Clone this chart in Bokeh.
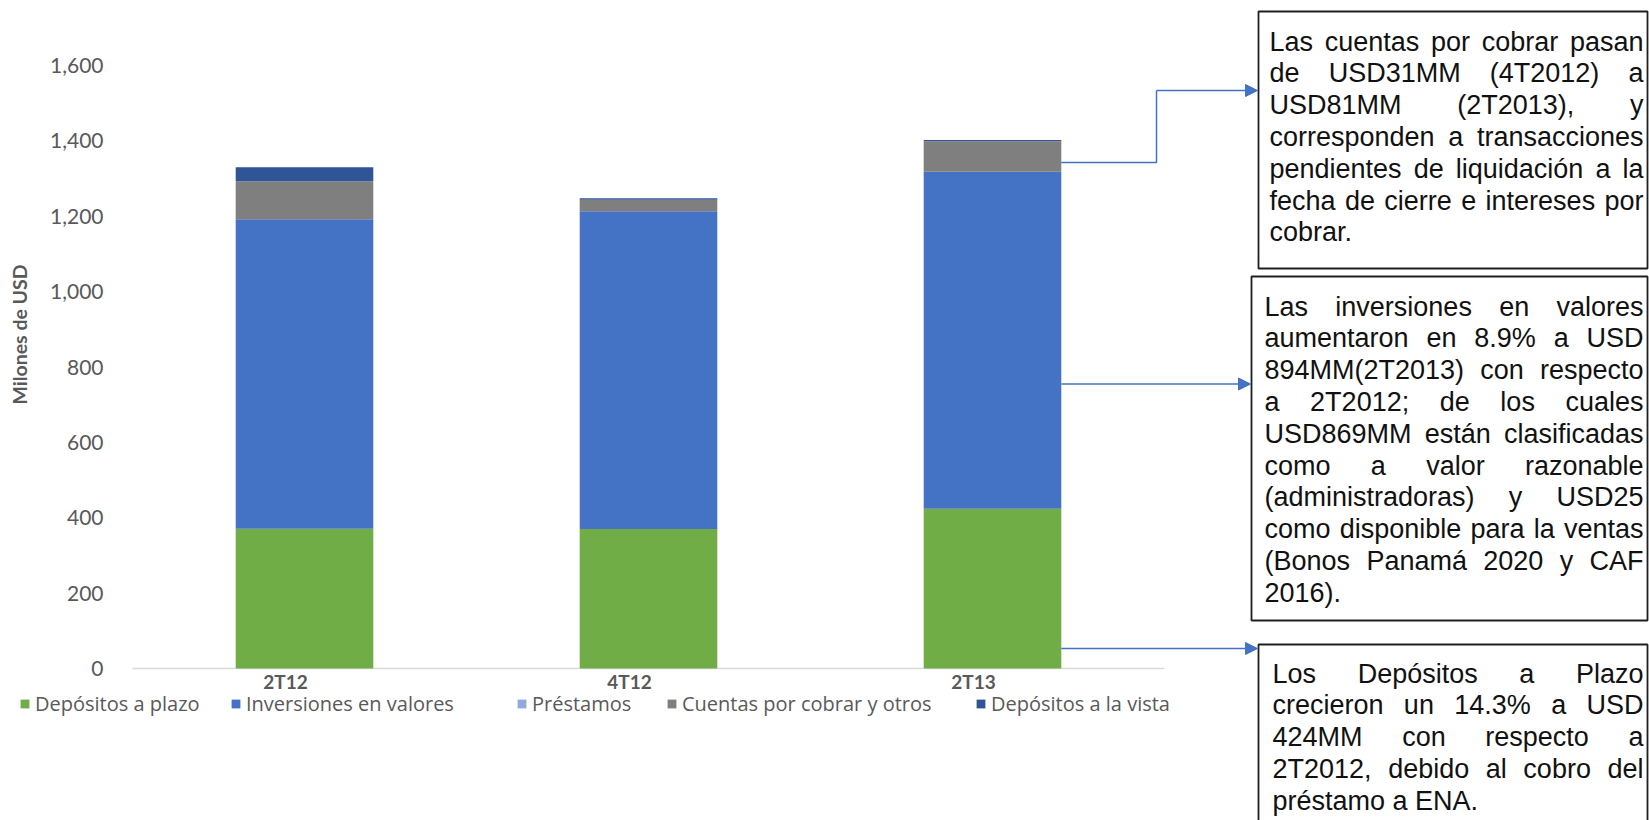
import math
from bokeh.plotting import figure
from bokeh.models import (ColumnDataSource, Range1d, FixedTicker, LinearAxis,
                          NumeralTickFormatter, Legend, LegendItem, Arrow, NormalHead)
from bokeh.core.properties import value
from bokeh.embed import file_html
from bokeh.resources import INLINE

# ---- data (millones de USD) ----
categories = ["2T12", "4T12", "2T13"]
depositos_plazo = [371, 370, 424]
inversiones_valores = [821, 843, 894]
prestamos = [0, 0, 0]
cuentas_por_cobrar = [101, 31, 81]
depositos_vista = [37, 4, 3]

series_keys = ["dep_plazo", "inversiones", "prestamos", "cuentas", "dep_vista"]
series_names = ["Depósitos a plazo", "Inversiones en valores", "Préstamos",
                "Cuentas por cobrar y otros", "Depósitos a la vista"]
series_colors = ["#70AD47", "#4472C4", "#8FAADC", "#7F7F7F", "#2F5597"]
y_ticks = [0, 200, 400, 600, 800, 1000, 1200, 1400, 1600]

notes = [
    ["Las cuentas por cobrar pasan",
     "de USD31MM (4T2012) a",
     "USD81MM (2T2013), y",
     "corresponden a transacciones",
     "pendientes de liquidación a la",
     "fecha de cierre e intereses por",
     "cobrar."],
    ["Las inversiones en valores",
     "aumentaron en 8.9% a USD",
     "894MM(2T2013) con respecto",
     "a 2T2012; de los cuales",
     "USD869MM están clasificadas",
     "como a valor razonable",
     "(administradoras) y USD25",
     "como disponible para la ventas",
     "(Bonos Panamá 2020 y CAF",
     "2016)."],
    ["Los Depósitos a Plazo",
     "crecieron un 14.3% a USD",
     "424MM con respecto a",
     "2T2012, debido al cobro del",
     "préstamo a ENA."],
]

# ---- page geometry (pixels) ----
W, H = 1649, 820
X0_PX = 304          # centre of the first category
CAT_PX = 344         # width of one category slot
BASE_PX = 668        # pixel row of the value 0
PPU = 603 / 1600.0   # pixels per million USD
BAR_W = 0.4
LABEL_SHIFT = 19     # category labels sit slightly left of the bar centres
TXT = "#595959"
ARROW_C = "#4472C4"


def xd(px):
    return (px - X0_PX) / CAT_PX


def yd(py):
    return (BASE_PX - py) / PPU


cat_x = list(range(len(categories)))

p = figure(width=W, height=H,
           x_range=Range1d(xd(0), xd(W)), y_range=Range1d(yd(H), yd(0)),
           x_axis_type=None,
           min_border_left=0, min_border_right=0, min_border_top=0, min_border_bottom=0,
           toolbar_location=None, output_backend="svg")
p.outline_line_color = None
p.ygrid.visible = False
p.extra_x_ranges = {"labels": Range1d(xd(0) + LABEL_SHIFT / CAT_PX, xd(W) + LABEL_SHIFT / CAT_PX),
                    "px": Range1d(0, W)}
p.extra_y_ranges = {"px": Range1d(H, 0)}

# ---- baseline and stacked bars ----
p.segment(x0=[cat_x[0] - 0.5], y0=[0], x1=[cat_x[-1] + 0.5], y1=[0],
          line_color="#D9D9D9", line_width=1.5)

source = ColumnDataSource(dict(x=cat_x, dep_plazo=depositos_plazo,
                               inversiones=inversiones_valores, prestamos=prestamos,
                               cuentas=cuentas_por_cobrar, dep_vista=depositos_vista))
bars = p.vbar_stack(series_keys, x="x", width=BAR_W, source=source,
                    fill_color=series_colors, line_color=None)

# ---- value axis, drawn at the left edge of the plotting area ----
yax = p.yaxis[0]
yax.fixed_location = cat_x[0] - 0.5
yax.ticker = FixedTicker(ticks=y_ticks)
yax.formatter = NumeralTickFormatter(format="0,0")
yax.axis_line_color = None
yax.major_tick_line_color = None
yax.minor_tick_line_color = None
yax.major_tick_out = 0
yax.major_label_standoff = 29
yax.major_label_text_font = "Lato"
yax.major_label_text_font_size = "21px"
yax.major_label_text_color = TXT

p.text(x=[xd(19)], y=[yd(334)], text=["Milones de USD"], angle=math.pi / 2,
       text_font=value("Lato"), text_font_style="bold", text_font_size="19.5px",
       text_color=TXT, text_align="center", text_baseline="middle")

# ---- category axis along the zero line ----
xax = LinearAxis(x_range_name="labels", fixed_location=0,
                 ticker=FixedTicker(ticks=cat_x),
                 major_label_overrides={i: c for i, c in zip(cat_x, categories)})
xax.axis_line_color = None
xax.major_tick_line_color = None
xax.minor_tick_line_color = None
xax.major_tick_out = 0
xax.major_label_standoff = 1
xax.major_label_text_font = "Lato"
xax.major_label_text_font_style = "bold"
xax.major_label_text_font_size = "19px"
xax.major_label_text_color = TXT
p.add_layout(xax, "below")

# ---- legend: one entry per series along the bottom ----
legend_x = [19, 230, 516, 666, 975]
legend_y = 706
for name, r, lx in zip(series_names, bars, legend_x):
    leg = Legend(items=[LegendItem(label=name, renderers=[r])],
                 location=(lx, H - legend_y - 11), orientation="horizontal",
                 padding=0, margin=0, border_line_color=None,
                 background_fill_alpha=0, glyph_width=11, glyph_height=11,
                 label_standoff=5, label_height=22, label_text_font="Open Sans",
                 label_text_font_size="20px", label_text_color=TXT,
                 label_text_baseline="middle")
    p.add_layout(leg)

# ---- commentary boxes ----
box_left = [1258, 1251, 1258]
box_top = [11, 276, 644]
box_bottom = [268, 620, 830]
box_right = 1647
p.quad(left=box_left, right=[box_right] * 3, top=box_top, bottom=box_bottom,
       x_range_name="px", y_range_name="px",
       fill_color=None, line_color="#1F1F1F", line_width=1.8)

# ---- connectors from the 2T13 bar to the boxes ----
i_last = categories.index("2T13")
bar_right = cat_x[i_last] + BAR_W / 2
base_cuentas = depositos_plazo[i_last] + inversiones_valores[i_last] + prestamos[i_last]
a1 = base_cuentas + 0.3 * cuentas_por_cobrar[i_last]
a2 = depositos_plazo[i_last] + 0.37 * inversiones_valores[i_last]
a3 = 0.125 * depositos_plazo[i_last]
elbow = xd(1156)
top_leg = yd(90)

p.line(x=[bar_right, elbow, elbow], y=[a1, a1, top_leg], line_color=ARROW_C, line_width=1.5)
for xs, ys, tip in [(elbow, top_leg, box_left[0]), (bar_right, a2, box_left[1]),
                    (bar_right, a3, box_left[2])]:
    p.add_layout(Arrow(x_start=xs, y_start=ys, x_end=xd(tip - 1), y_end=ys,
                       line_color=ARROW_C, line_width=1.5,
                       end=NormalHead(size=12, fill_color=ARROW_C, line_color=ARROW_C)))

# Arial / Liberation Sans advance widths (1/1000 em) used to justify the notes
ARIAL = {" ": 278, "%": 889, "(": 333, ")": 333, ",": 278, ".": 278, ";": 278,
         "A": 667, "B": 667, "C": 722, "D": 722, "E": 667, "F": 611, "L": 556,
         "M": 833, "N": 722, "P": 667, "S": 667, "T": 611, "U": 722,
         "a": 556, "b": 556, "c": 500, "d": 556, "e": 556, "f": 278, "g": 556,
         "h": 556, "i": 222, "l": 222, "m": 833, "n": 556, "o": 556, "p": 556,
         "q": 556, "r": 333, "s": 500, "t": 278, "u": 556, "v": 500, "y": 500,
         "z": 500, "á": 556, "é": 556, "ó": 556}
FONT_PX = 27
LINE_H = 31.8


def w_of(s):
    return sum(ARIAL.get(ch, 556) for ch in s) * FONT_PX / 1000.0


text_x0 = [1269, 1264, 1272]
text_x1 = 1643
first_line = [41, 306, 673]
wx, wy, wt = [], [], []
for lines, x0, y0 in zip(notes, text_x0, first_line):
    for k, line in enumerate(lines):
        words = line.split()
        widths = [w_of(w) for w in words]
        if k == len(lines) - 1 or len(words) == 1:
            gap = w_of(" ")
        else:
            gap = (text_x1 - x0 - sum(widths)) / (len(words) - 1)
        x = x0
        for w, ww in zip(words, widths):
            wx.append(x)
            wy.append(y0 + k * LINE_H)
            wt.append(w)
            x += ww + gap

p.text(x=wx, y=wy, text=wt, x_range_name="px", y_range_name="px",
       text_font=value("Liberation Sans"), text_font_size=f"{FONT_PX}px",
       text_color="#111111", text_align="left", text_baseline="middle")

open("out.html", "w").write(file_html(p, INLINE))
